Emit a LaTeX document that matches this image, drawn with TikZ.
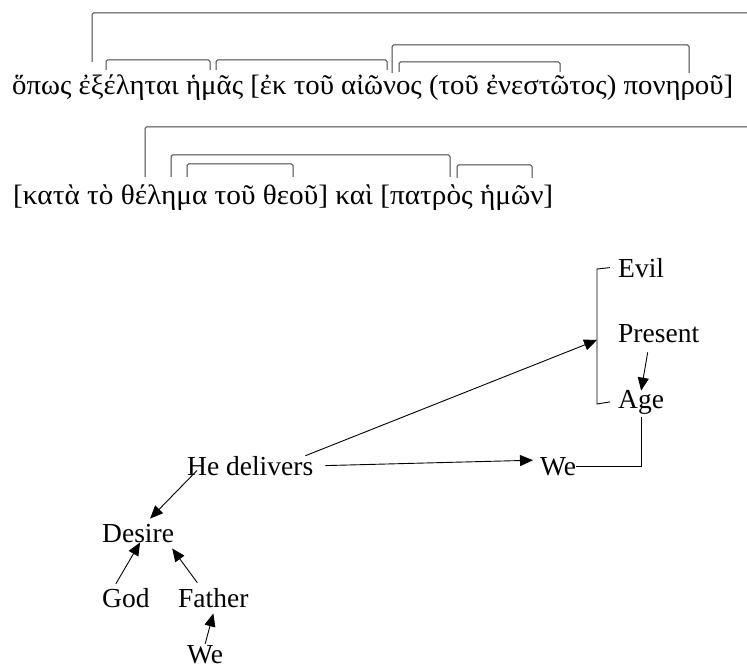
\documentclass[tikz,border=0pt]{standalone}
\usepackage{fontspec}
\setmainfont{Liberation Serif}
\newfontfamily\greekfont{Liberation Serif}
\usetikzlibrary{arrows.meta}
\begin{document}
\begin{tikzpicture}[x=1pt,y=-1pt,
  brk/.style={draw=black!75, line width=1pt, rounded corners=1.5pt},
  lbl/.style={inner sep=0pt, anchor=base west, font=\fontsize{27.5}{30}\selectfont},
  grk/.style={inner sep=0pt, anchor=base west, font=\greekfont\fontsize{28}{32}\selectfont, text=black},
  arr/.style={-{Triangle[length=13pt,width=11pt]}, line width=0.9pt},
  ln/.style={line width=0.9pt}]
\useasboundingbox (0,0) rectangle (747,671);
% Greek line 1
\node[grk] (g1) at (12,95) {\resizebox{721pt}{\height}{ὅπως ἐξέληται ἡμᾶς [ἐκ τοῦ αἰῶνος (τοῦ ἐνεστῶτος) πονηροῦ]}};
\draw[brk] (92,62) -- (92,13) -- (747,13);
\draw[brk] (106,70) -- (106,60) -- (210,60) -- (210,70);
\draw[brk] (216,70) -- (216,60) -- (387,60) -- (387,70);
\draw[brk] (392,73) -- (392,45) -- (689,45) -- (689,73);
\draw[brk] (399,72) -- (399,62) -- (560,62) -- (560,72);
% Greek line 2
\node[grk] (g2) at (13,205) {\resizebox{540pt}{\height}{[κατὰ τὸ θέλημα τοῦ θεοῦ] καὶ [πατρὸς ἡμῶν]}};
\draw[brk] (145,177) -- (145,127) -- (747,127);
\draw[brk] (171,177) -- (171,155) -- (450,155) -- (450,177);
\draw[brk] (187,177) -- (187,164) -- (293,164) -- (293,177);
\draw[brk] (457,178) -- (457,165) -- (532,165) -- (532,178);
% lower diagram
\node[lbl] (evil) at (618,277) {Evil};
\node[lbl] (present) at (618,342) {Present};
\node[lbl] (age) at (618,408) {Age};
\node[lbl] (weR) at (540,475) {We};
\node[lbl] (hd) at (187,475) {He delivers};
\node[lbl] (desire) at (102,542) {Desire};
\node[lbl] (god) at (102,607) {God};
\node[lbl] (father) at (178,607) {Father};
\node[lbl] (weB) at (187,663) {We};
\coordinate (brk) at (597,340);
\draw[ln] ([xshift=-8pt]evil.west) -- (597,269) -- (597,404) -- ([xshift=-8pt]age.west);
\draw[arr] ([xshift=-8pt]hd.north east) -- (brk);
\draw[arr] ([xshift=12pt]hd.east) -- ([xshift=-7pt,yshift=6pt]weR.west);
\draw[ln] ([yshift=-3pt]age.south) |- (weR.east);
\draw[arr] ([xshift=-11pt,yshift=-10pt]present.south) -- ([yshift=-1pt]age.north);
\draw[arr] ([xshift=10pt,yshift=5pt]hd.south west) -- ([xshift=12pt,yshift=5pt]desire.north);
\draw[arr] ([xshift=-10pt,yshift=4pt]god.north) -- ([xshift=2pt]desire.south);
\draw[arr] ([xshift=-16pt,yshift=5pt]father.north) -- ([xshift=-2pt,yshift=-6pt]desire.south east);
\draw[arr] ([yshift=1pt]weB.north) -- ([yshift=-6pt]father.south);
\end{tikzpicture}
\end{document}
